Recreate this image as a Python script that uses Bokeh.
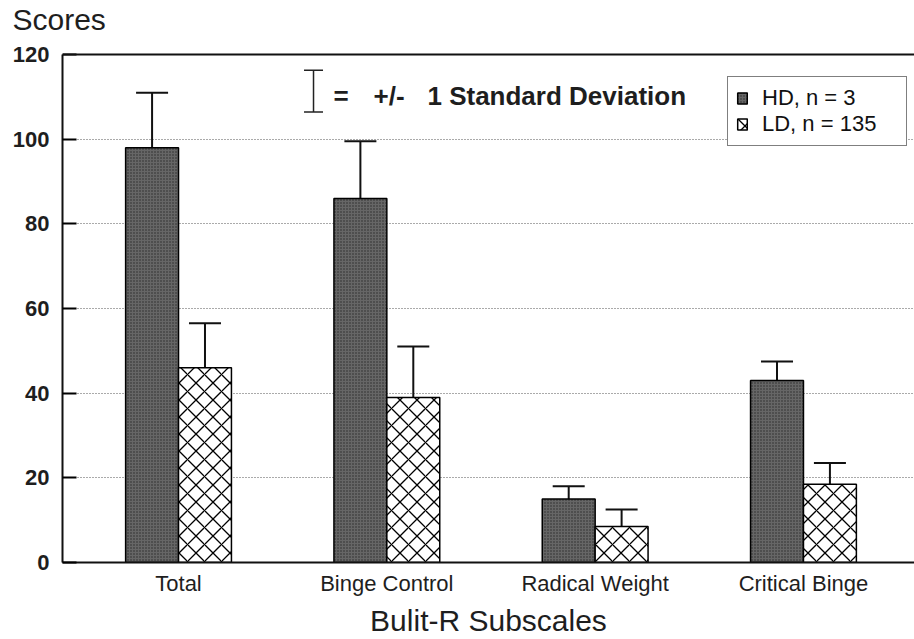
import numpy as np
from bokeh.plotting import figure
from bokeh.models import (ColumnDataSource, Range1d, FixedTicker, Whisker, TeeHead,
                          Label, Arrow, Legend, Span)
from bokeh.embed import file_html
from bokeh.resources import INLINE

# ---- data ----
categories = ["Total", "Binge Control", "Radical Weight", "Critical Binge"]
hd_mean = [98, 86, 15, 43]
hd_lower = [90.5, 72, 10.5, 38]
hd_upper = [111, 99.5, 18, 47.5]
ld_mean = [46, 39, 8.5, 18.5]
ld_lower = [36, 27, 5, 12.5]
ld_upper = [56.5, 51, 12.5, 23.5]
y_ticks = [0, 20, 40, 60, 80, 100, 120]
hd_label = "HD, n = 3"
ld_label = "LD, n = 135"

BAR_W = 0.254
idx = np.arange(1, len(categories) + 1)

src_hd = ColumnDataSource(dict(x=idx - BAR_W / 2, top=hd_mean, lower=hd_lower, upper=hd_upper))
src_ld = ColumnDataSource(dict(x=idx + BAR_W / 2, top=ld_mean, lower=ld_lower, upper=ld_upper))

FONT = "Liberation Sans"
Y_MAX = y_ticks[-1]

p = figure(width=914, height=639, x_range=Range1d(0.443, 4.533), y_range=Range1d(0, 124.5),
           output_backend="svg", toolbar_location=None,
           min_border_left=62, min_border_right=0, min_border_top=35, min_border_bottom=77)
p.background_fill_color = "white"
p.border_fill_color = "white"
p.outline_line_color = None

p.title.text = "Scores"
p.title.text_font = FONT
p.title.text_font_size = "30px"
p.title.text_font_style = "normal"
p.title.text_color = "#1e1e1e"
p.title.align = "left"
p.title.offset = -50
p.title.standoff = 0

# top frame border at the top tick
p.add_layout(Span(location=Y_MAX, dimension="width", line_color="#111111", line_width=2))

r_hd = p.vbar(x="x", top="top", width=BAR_W, source=src_hd, fill_color="#666666",
              hatch_pattern="dot", hatch_color="#2a2a2a", hatch_scale=3, hatch_weight=1,
              line_color="black", line_width=1.5)
r_ld = p.vbar(x="x", top="top", width=BAR_W, source=src_ld, fill_color="white",
              hatch_pattern="diagonal_cross", hatch_color="black", hatch_scale=17, hatch_weight=1.3,
              line_color="black", line_width=1.5)

for src in (src_hd, src_ld):
    w = Whisker(base="x", lower="lower", upper="upper", source=src, dimension="height",
                line_color="#111111", line_width=2,
                upper_head=TeeHead(size=32, line_width=2, line_color="#111111"),
                lower_head=TeeHead(size=32, line_width=2, line_color="#111111"))
    p.add_layout(w)

# axes
p.xaxis.ticker = FixedTicker(ticks=list(idx))
p.xaxis.major_label_overrides = {int(i): c for i, c in zip(idx, categories)}
p.xaxis.major_tick_line_color = None
p.xaxis.minor_tick_line_color = None
p.xaxis.axis_line_width = 2
p.xaxis.axis_line_color = "#111111"
p.xaxis.major_label_text_font = FONT
p.xaxis.major_label_text_font_size = "22px"
p.xaxis.major_label_text_color = "#1e1e1e"
p.xaxis.major_label_standoff = 2
p.xaxis.axis_label = "Bulit-R Subscales"
p.xaxis.axis_label_text_font = FONT
p.xaxis.axis_label_text_font_size = "30px"
p.xaxis.axis_label_text_font_style = "normal"
p.xaxis.axis_label_text_color = "#1e1e1e"
p.xaxis.axis_label_standoff = 5

p.yaxis.ticker = FixedTicker(ticks=y_ticks)
p.yaxis.bounds = (0, Y_MAX)
p.yaxis.major_tick_in = 14
p.yaxis.major_tick_out = 0
p.yaxis.major_tick_line_width = 2
p.yaxis.minor_tick_line_color = None
p.yaxis.axis_line_width = 2
p.yaxis.axis_line_color = "#111111"
p.yaxis.major_label_text_font = FONT
p.yaxis.major_label_text_font_size = "22px"
p.yaxis.major_label_text_font_style = "bold"
p.yaxis.major_label_text_color = "#1e1e1e"
p.yaxis.major_label_standoff = 13

p.xgrid.grid_line_color = None
p.ygrid.ticker = FixedTicker(ticks=y_ticks[1:-1])
p.ygrid.grid_line_color = "#555555"
p.ygrid.grid_line_dash = "1 2"
p.ygrid.grid_line_width = 1

# legend
legend = Legend(items=[(hd_label, [r_hd]), (ld_label, [r_ld])], location=(665, 416))
legend.border_line_color = "black"
legend.border_line_width = 1.5
legend.background_fill_alpha = 1
legend.label_text_font = FONT
legend.label_text_font_size = "22px"
legend.label_text_color = "#111111"
legend.glyph_width = 12
legend.glyph_height = 14
legend.label_standoff = 14
legend.label_width = 136
legend.padding = 8
legend.spacing = 0
legend.margin = 0
p.add_layout(legend, "center")

# annotations inside the frame
p.add_layout(Arrow(x_start=1.648, y_start=106.4, x_end=1.648, y_end=116.3,
                   line_width=1.5, line_color="#222222",
                   start=TeeHead(size=19, line_width=1.5, line_color="#222222"),
                   end=TeeHead(size=19, line_width=1.5, line_color="#222222")))
for xx, txt in [(1.744, "="), (1.936, "+/-"), (2.195, "1 Standard Deviation")]:
    p.add_layout(Label(x=xx, y=110.1, text=txt, text_font=FONT, text_font_size="26px",
                       text_font_style="bold", text_color="#1e1e1e", text_baseline="alphabetic"))

open("out.html", "w").write(file_html(p, INLINE))
